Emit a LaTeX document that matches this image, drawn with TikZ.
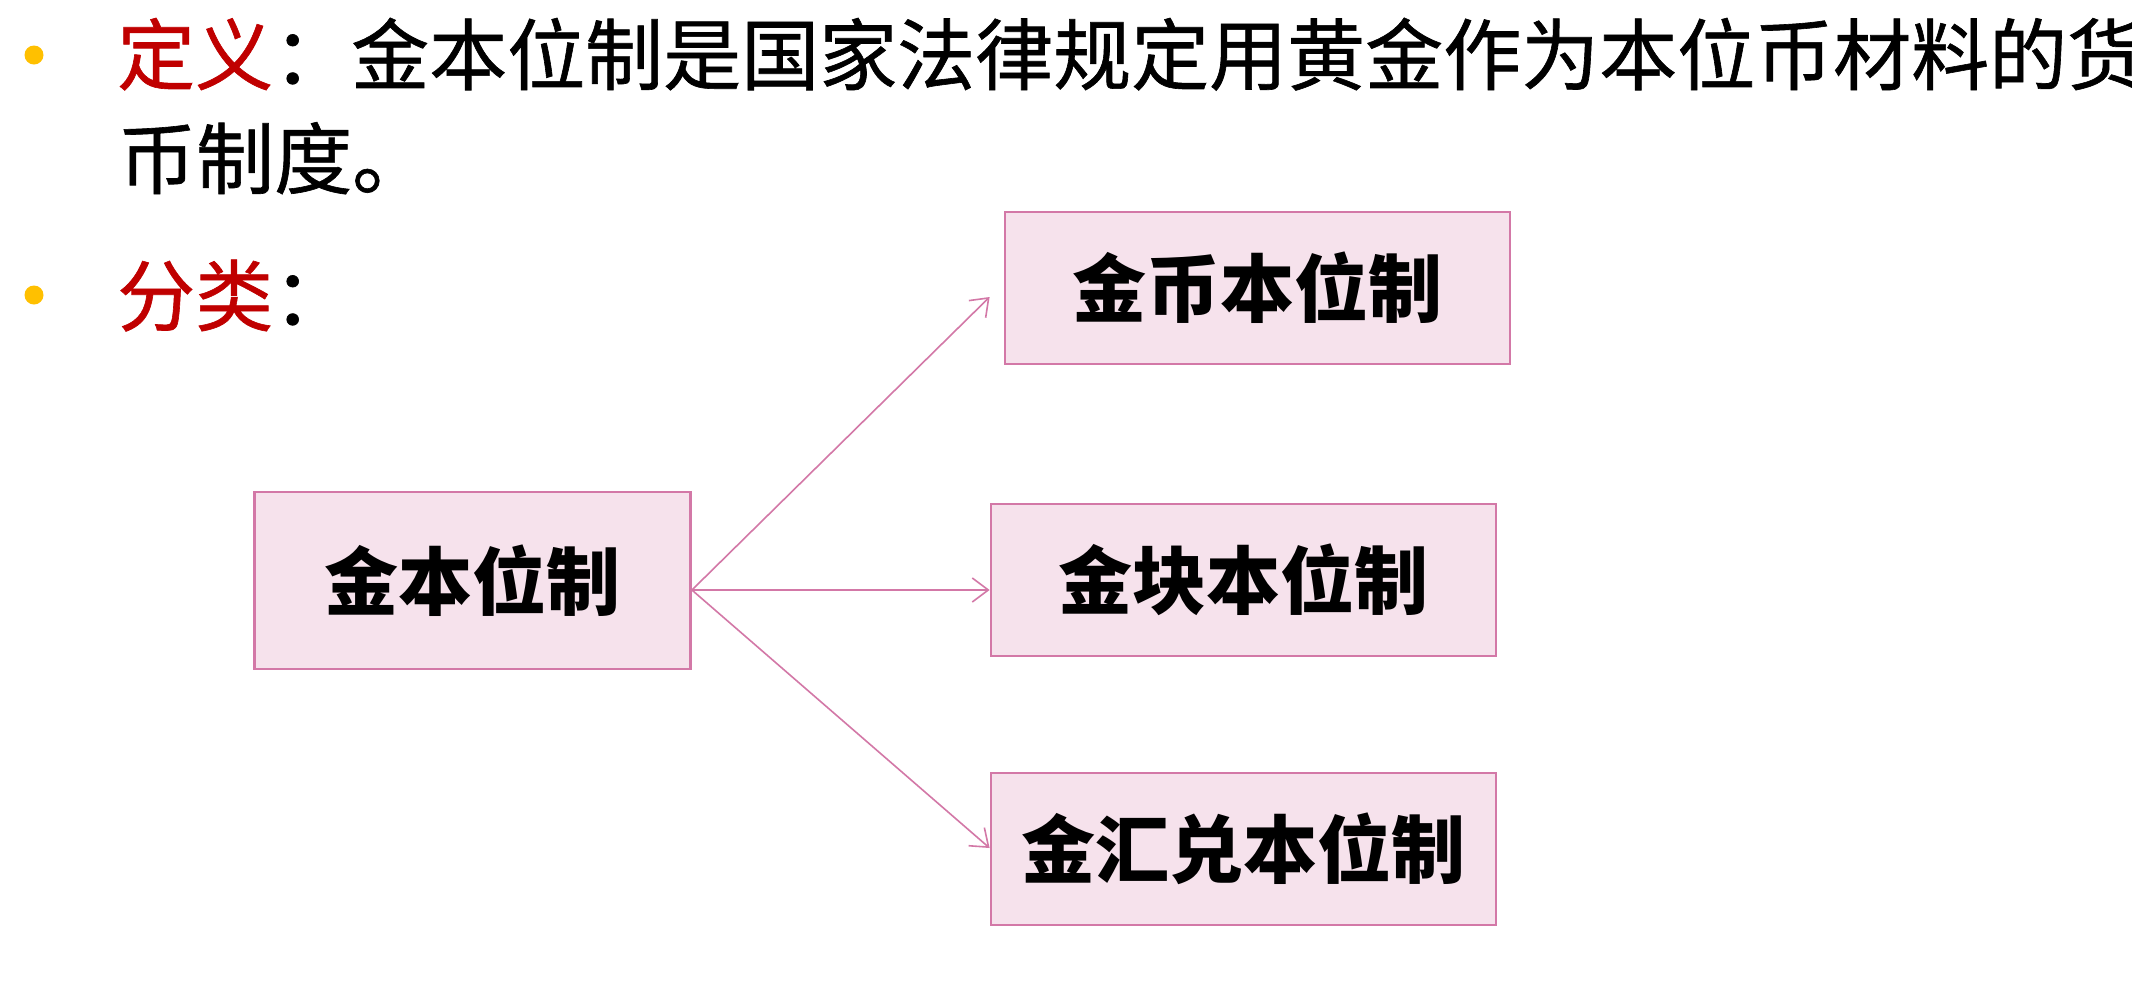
\documentclass[tikz,border=0pt]{standalone}
\usepackage{fontspec}
\usetikzlibrary{arrows.meta}
\newfontfamily\cjk{Noto Sans CJK SC}
\newfontfamily\cjkbody{Noto Sans CJK SC}[FakeBold=0.8]
\definecolor{myred}{HTML}{C00000}
\definecolor{mygold}{HTML}{FFC000}
\definecolor{boxline}{HTML}{D378A7}
\definecolor{boxfill}{HTML}{F6E2EC}
\tikzset{
  bodytext/.style={anchor=base west,inner sep=0pt,font=\cjkbody\fontsize{78}{90}\selectfont},
  bulletdot/.style={circle,fill=mygold,inner sep=0pt,minimum size=19pt},
  sysbox/.style={draw=boxline,fill=boxfill,line width=2.8pt,inner sep=0pt,
    minimum width=505pt,minimum height=152pt,font=\cjk\bfseries\fontsize{74}{80}\selectfont},
  link/.style={draw=boxline,line width=1.6pt,-{Straight Barb[length=16pt,width=24pt,line width=1.6pt]}}
}
\begin{document}
\begin{tikzpicture}[x=1pt,y=-1pt]
\useasboundingbox[fill=white] (0,0) rectangle (2132,989);
% bullets
\node[bulletdot] (b1dot) at (34,55) {};
\node[bulletdot] (b2dot) at (34,295) {};
% texts
\node[bodytext] (line1) at (117,84) {{\color{myred}定义}：金本位制是国家法律规定用黄金作为本位币材料的货};
\node[bodytext] (line2) at (118,188) {币制度。};
\node[bodytext] (line3) at (117,325) {{\color{myred}分类}：};
% boxes
\node[sysbox,minimum width=436pt,minimum height=177pt] (main) at (472.5,580.5) {金本位制};
\node[sysbox] (s1) at (1257.5,288) {金币本位制};
\node[sysbox] (s2) at (1243.5,580) {金块本位制};
\node[sysbox] (s3) at (1243.5,849) {金汇兑本位制};
% connectors
\coordinate (src) at ([yshift=-9.5pt]main.east);
\draw[link] (src) -- ([xshift=-14pt,yshift=-9pt]s1.west);
\draw[link] (src) -- ([yshift=-10pt]s2.west);
\draw[link] (src) -- ([yshift=1pt]s3.west);
\end{tikzpicture}
\end{document}
